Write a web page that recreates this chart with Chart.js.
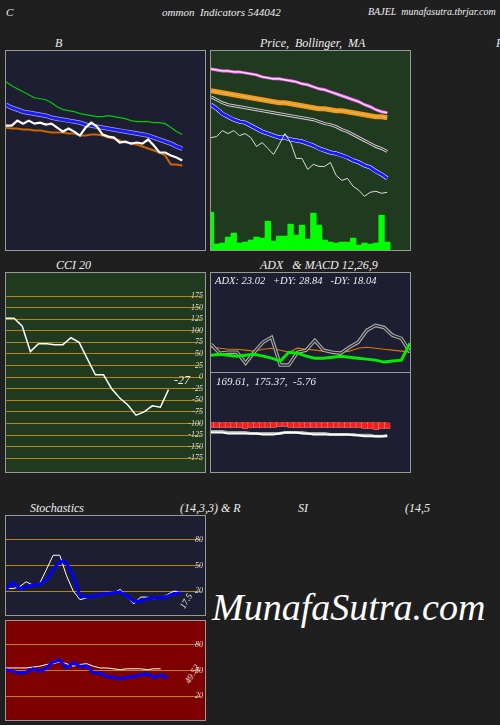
<!DOCTYPE html>
<html><head><meta charset="utf-8">
<script src="https://cdn.jsdelivr.net/npm/chart.js@4"></script>
<style>
body{margin:0;background:#1f1f1f;width:500px;height:725px;position:relative;overflow:hidden;font-family:"Liberation Serif",serif;font-style:italic;color:#eee}
.t{position:absolute;font-size:11px;white-space:nowrap}
.p{position:absolute;border:1px solid #999;box-sizing:border-box}
.p canvas{position:absolute;left:0;top:0}
</style></head><body>
<div class="t" style="left:6px;top:6px">C</div>
<div class="t" style="left:162px;top:6px">ommon&nbsp; Indicators 544042</div>
<div class="t" style="left:368px;top:6px;font-size:10px">BAJEL&nbsp; munafasutra.tbrjar.com</div>
<div class="t" style="left:55px;top:36px;font-size:12px">B</div>
<div class="t" style="left:260px;top:36px;font-size:12px">Price,&nbsp; Bollinger,&nbsp; MA</div>
<div class="t" style="left:496px;top:36px;font-size:12px">P</div>
<div class="t" style="left:56px;top:258px;font-size:12px">CCI 20</div>
<div class="t" style="left:260px;top:258px;font-size:12px">ADX &nbsp; &amp; MACD 12,26,9</div>
<div class="t" style="left:30px;top:501px;font-size:12px">Stochastics</div>
<div class="t" style="left:180px;top:501px;font-size:12px">(14,3,3) &amp; R</div>
<div class="t" style="left:298px;top:501px;font-size:12px">SI</div>
<div class="t" style="left:405px;top:501px;font-size:12px">(14,5</div>
<div class="t" style="left:212px;top:585px;font-size:38px;color:#fff">MunafaSutra.com</div>

<div class="p" style="left:5px;top:50px;width:201px;height:201px;background:#1e1e33"><canvas id="cB" width="199" height="199"></canvas></div>
<div class="p" style="left:210px;top:50px;width:201px;height:201px;background:#1f3a1f"><canvas id="cP" width="199" height="199"></canvas></div>
<div class="p" style="left:5px;top:272px;width:201px;height:201px;background:#1f3a1f"><canvas id="cC" width="199" height="199"></canvas>
 <div class="t" style="left:168px;top:100px;font-size:12px">-27</div></div>
<div class="p" style="left:210px;top:272px;width:201px;height:101px;background:#1e1e33"><canvas id="cA" width="199" height="99"></canvas>
 <div class="t" style="left:4px;top:2px;font-size:10.5px">ADX: 23.02&nbsp;&nbsp; +DY: 28.84&nbsp;&nbsp; -DY: 18.04</div></div>
<div class="p" style="left:210px;top:372px;width:201px;height:101px;background:#1e1e33"><canvas id="cM" width="199" height="99"></canvas>
 <div class="t" style="left:5px;top:2px;font-size:11px">169.61,&nbsp; 175.37,&nbsp; -5.76</div></div>
<div class="p" style="left:5px;top:515px;width:201px;height:101px;background:#1e1e33"><canvas id="cS" width="199" height="99"></canvas>
 <div class="t" style="left:172px;top:80px;font-size:9px;transform:rotate(-60deg)">17.5</div></div>
<div class="p" style="left:5px;top:620px;width:201px;height:101px;background:#7f0000"><canvas id="cR" width="199" height="99"></canvas>
 <div class="t" style="left:176px;top:48px;font-size:9px;transform:rotate(-60deg)">49.52</div></div>

<script>
// Bands panel
var bGreen = [169,165,162,159,156,153,152,151,148,144,141,140,139,137,136,135,134,134,135,134,133,132,130,129,129,129,128,128,127,123,119,116];
var bBlue = [146,143,141,139,138,137,136,135,133,132,131,130,129,128,126,125,124,123,122,121,120,119,118,117,116,115,113,111,109,107,104,102];
var bWhite = [125,125,130,127,130,127,128,126,127,123,119,122,119,115,123,128,124,116,114,113,108,109,107,108,107,111,105,98,98,95,93,90];
var bOrange = [123,122,122,121,121,120,120,119,118,118,118,117,117,115,115,116,116,115,113,112,110,108,107,106,104,102,100,98,95,86,86,85];
// Price, Bollinger, MA
var pPink = [182,181,180,180,179,179,178,177,176,174,173,172,172,171,170,169,167,166,164,162,161,159,157,155,153,151,149,146,144,141,139,138];
var pOrange = [160,159,158,157,156,155,154,153,152,151,150,149,148,148,147,146,145,144,143,142,142,141,140,140,139,138,137,136,135,134,134,133];
var pMid = [154,151,148,146,145,144,143,142,141,140,139,138,137,136,135,134,133,132,131,129,127,126,124,121,119,116,113,110,107,104,102,99];
var pBlue = [146,142,137,134,131,129,128,125,122,119,117,115,113,113,111,110,109,107,105,102,100,98,97,95,93,90,88,85,83,79,76,72];
var pPrice = [113,114,120,117,120,115,117,113,104,108,102,96,106,117,108,92,92,81,86,84,84,88,75,70,72,64,60,54,58,59,57,58];
var pVolume = [38,6,7,13,17,7,8,10,13,12,29,9,14,14,26,15,25,11,37,25,10,8,7,8,8,12,5,7,6,7,35,8];
// CCI
var cci = [127,127,110,55,72,72,70,70,85,75,40,5,5,-25,-45,-60,-82,-75,-62,-65,-27];
var cciTicks = [175,150,125,100,75,50,25,0,-25,-50,-75,-100,-125,-150,-175];
// ADX
var adx = [17,18,17,16,17,18,16,14,11,20,19,16,14,14,15,16,15,14,13,12,10,11,12,29];
var adxOrange = [25,24,23,23,22,21,23,24,22,20,24,23,22,21,20,20,21,24,25,24,23,22,21,20];
var adxGray = [28,19,20,20,9,20,30,35,7,7,20,22,32,22,20,19,25,30,42,47,45,37,34,20];
// MACD
var macdHist = [-5,-5,-5,-5,-5,-5,-6,-5,-5,-5,-5,-5,-4,-4,-5,-5,-5,-5,-5,-5,-5,-5,-5,-5,-5,-5,-5,-6,-6,-7,-6,-6];
var macdLine = [-10,-10,-10,-11,-11,-11,-11,-11,-11,-12,-12,-12,-11,-10,-10,-10,-11,-11,-12,-12,-12,-12,-12,-12,-12,-13,-13,-14,-14,-14,-14,-14];
var macdSignal = [-9,-9,-9,-10,-10,-10,-10,-11,-11,-11,-11,-11,-11,-10,-10,-10,-10,-11,-11,-11,-11,-12,-12,-12,-12,-12,-13,-13,-13,-14,-14,-13];
// Stochastics & RSI
var stK = [23,23,25,31,27,29,45,62,62,38,20,10,12,15,15,17,18,22,13,5,13,13,11,12,16,20,19];
var stD = [22,30,23,25,27,28,33,45,55,53,37,14,13,14,16,17,18,19,14,8,8,11,12,12,14,17,18];
var rsiW = [53,53,53,53,54,55,57,58,60,58,55,57,58,55,53,53,52,51,52,52,52,51,52,52];
var rsiB = [51,49,47,48,52,49,53,60,62,53,59,55,55,47,47,43,42,40,42,43,45,46,42,45,41];
var levels = [80,50,20];

Chart.defaults.font.family = "Liberation Serif";
Chart.defaults.font.style = "italic";
Chart.defaults.animation = false;

function labels(n){ var a=[]; for(var i=0;i<n;i++) a.push(i); return a; }
function ln(d, c, w){ return {type:'line', data:d.slice(), borderColor:c, borderWidth:w, pointRadius:0, tension:0, fill:false}; }
function hidden(min,max){ return {display:false, min:min, max:max}; }
// datasets listed bottom to top; Chart.js paints index 0 last, so reverse
function mk(id, n, datasets, scales){
  return new Chart(document.getElementById(id), {
    data:{labels:labels(n), datasets:datasets.reverse()},
    options:{responsive:false, layout:{padding:0}, plugins:{legend:{display:false}, tooltip:{enabled:false}},
      scales:Object.assign({x:{display:false, offset:false}}, scales)}
  });
}
function lvlAxis(min,max,ticks){
  return {min:min, max:max, position:'right', afterBuildTicks:function(a){ a.ticks = ticks.map(function(v){return {value:v};}); },
    grid:{color:'#b8860b', drawTicks:false}, border:{display:false},
    ticks:{mirror:true, color:'#ddd', font:{size:8}, padding:2}};
}

mk('cB', 36, [
  ln(bGreen,'#00cc00',1.2),
  ln(bBlue,'#aab',4.5), ln(bBlue,'#1a1aff',3),
  ln(bOrange,'#cc6600',2),
  ln(bWhite,'#ffffff',2.2)
], {y:hidden(0,200)});

mk('cP', 36, [
  {type:'bar', data:pVolume, backgroundColor:'#00ff00', barPercentage:1, categoryPercentage:1, yAxisID:'v'},
  ln(pPink,'#ff66ff',3), ln(pPink,'#ffffff',1),
  ln(pOrange,'#ff9900',5), ln(pOrange,'#bbbbbb',1),
  ln(pMid,'#cccccc',3), ln(pMid,'#222222',1),
  ln(pBlue,'#ffffff',4), ln(pBlue,'#1a1aff',3),
  ln(pPrice,'#dddddd',1)
], {y:hidden(0,200), v:hidden(0,200)});

mk('cC', 25, [ln(cci,'#ffffff',1.5)], {y:lvlAxis(-190,210,cciTicks)});

mk('cA', 24, [
  ln(adxOrange,'#dd7700',1.2),
  ln(adxGray,'#aaaaaa',3.5), ln(adxGray,'#222222',1.2),
  ln(adx,'#00ee00',3)
], {y:hidden(0,100)});

mk('cM', 36, [
  ln(macdHist.map(function(){return 0;}),'#996633',1),
  {type:'bar', data:macdHist, backgroundColor:'#ff1a1a', borderColor:'#ffaaaa', borderWidth:0.5, barPercentage:1, categoryPercentage:1},
  ln(macdSignal,'#aaaaaa',3),
  ln(macdLine,'#ffffff',2)
], {y:hidden(-50,50)});

mk('cS', 30, [ln(stK,'#ffffff',1), ln(stD,'#0000ff',3)], {y:lvlAxis(0,100,levels)});
mk('cR', 30, [ln(rsiW,'#ffffff',1), ln(rsiB,'#0000ff',3)], {y:lvlAxis(0,100,levels)});
</script>
</body></html>
